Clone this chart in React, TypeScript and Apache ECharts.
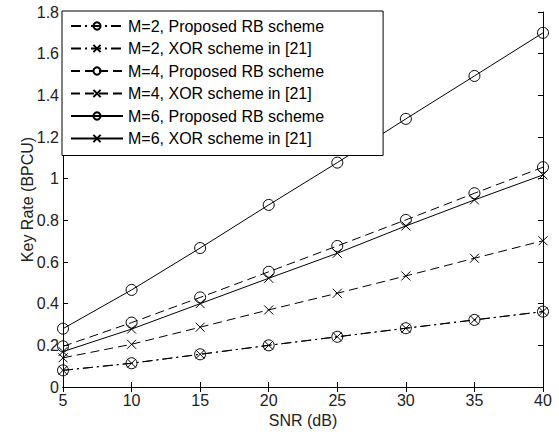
import React, { useEffect, useRef } from "react";
import * as echarts from "echarts";

const snr = [5, 10, 15, 20, 25, 30, 35, 40];
const m2Rb = [0.08, 0.114, 0.157, 0.2, 0.241, 0.282, 0.322, 0.362];
const m2Xor = [0.08, 0.114, 0.157, 0.2, 0.241, 0.282, 0.322, 0.362];
const m4Rb = [0.195, 0.309, 0.43, 0.553, 0.677, 0.802, 0.93, 1.055];
const m4Xor = [0.14, 0.205, 0.287, 0.37, 0.45, 0.533, 0.618, 0.702];
const m6Rb = [0.28, 0.466, 0.667, 0.874, 1.077, 1.287, 1.493, 1.7];
const m6Xor = [0.17, 0.278, 0.4, 0.522, 0.642, 0.773, 0.898, 1.018];
const seriesNames = [
  "M=2, Proposed RB scheme",
  "M=2, XOR scheme in [21]",
  "M=4, Proposed RB scheme",
  "M=4, XOR scheme in [21]",
  "M=6, Proposed RB scheme",
  "M=6, XOR scheme in [21]",
];

const FONT = "'Liberation Sans', Arial, sans-serif";
const CROSS = "path://M0,0L10,10M10,0L0,10";

export default function App() {
  const ref = useRef<HTMLDivElement>(null);
  useEffect(() => {
    document.body.style.margin = "0";
    const chart = echarts.init(ref.current!, null, { renderer: "svg" });
    const dashDot = [10, 4, 2, 4];
    const dashed = [9, 5];
    const mk = (name: string, vals: number[], type: any, circle: boolean) => ({
      name,
      type: "line",
      data: snr.map((x, i) => [x, vals[i]]),
      symbol: circle ? "circle" : CROSS,
      symbolSize: circle ? 11 : 9,
      showSymbol: true,
      lineStyle: { color: "#000", width: 1, type },
      itemStyle: { color: "transparent", borderColor: "#000", borderWidth: 1 },
      emphasis: { disabled: true },
      z: 3,
    });
    const series = [
      mk(seriesNames[0], m2Rb, dashDot, true),
      mk(seriesNames[1], m2Xor, dashDot, false),
      mk(seriesNames[2], m4Rb, dashed, true),
      mk(seriesNames[3], m4Xor, dashed, false),
      mk(seriesNames[4], m6Rb, "solid", true),
      mk(seriesNames[5], m6Xor, "solid", false),
    ];
    const axisCommon = {
      axisLine: { show: true, lineStyle: { color: "#000", width: 1 } },
      axisTick: { show: true, inside: true, length: 5, lineStyle: { color: "#000" } },
      splitLine: { show: false },
    };
    chart.setOption({
      animation: false,
      backgroundColor: "#fff",
      textStyle: { fontFamily: FONT },
      grid: { left: 63, right: 16, top: 12, bottom: 47, containLabel: false },
      legend: {
        data: seriesNames,
        orient: "vertical",
        left: 62,
        top: 11,
        itemWidth: 52,
        itemHeight: 9,
        itemGap: 6.5,
        padding: [7, 59, 9, 8],
        backgroundColor: "#fff",
        borderColor: "#000",
        borderWidth: 1,
        borderRadius: 0,
        textStyle: { fontFamily: FONT, fontSize: 16, color: "#000" },
        z: 10,
      },
      xAxis: [
        {
          type: "value",
          min: 5,
          max: 40,
          interval: 5,
          name: "SNR (dB)",
          nameLocation: "middle",
          nameGap: 25,
          nameMoveOverlap: false,
          nameTextStyle: { fontFamily: FONT, fontSize: 16, color: "#222" },
          axisLabel: { fontFamily: FONT, fontSize: 16, color: "#222", margin: 5 },
          ...axisCommon,
        },
        {
          type: "value",
          position: "top",
          min: 5,
          max: 40,
          interval: 5,
          axisLabel: { show: false },
          ...axisCommon,
        },
      ],
      yAxis: [
        {
          type: "value",
          min: 0,
          max: 1.8,
          interval: 0.2,
          name: "Key Rate (BPCU)",
          nameLocation: "middle",
          nameGap: 28,
          nameMoveOverlap: false,
          nameTextStyle: { fontFamily: FONT, fontSize: 16, color: "#222" },
          axisLabel: { fontFamily: FONT, fontSize: 16, color: "#222", margin: 4 },
          ...axisCommon,
        },
        {
          type: "value",
          position: "right",
          min: 0,
          max: 1.8,
          interval: 0.2,
          axisLabel: { show: false },
          ...axisCommon,
        },
      ],
      series,
    });
    return () => chart.dispose();
  }, []);
  return <div ref={ref} style={{ width: 559, height: 434 }} />;
}
